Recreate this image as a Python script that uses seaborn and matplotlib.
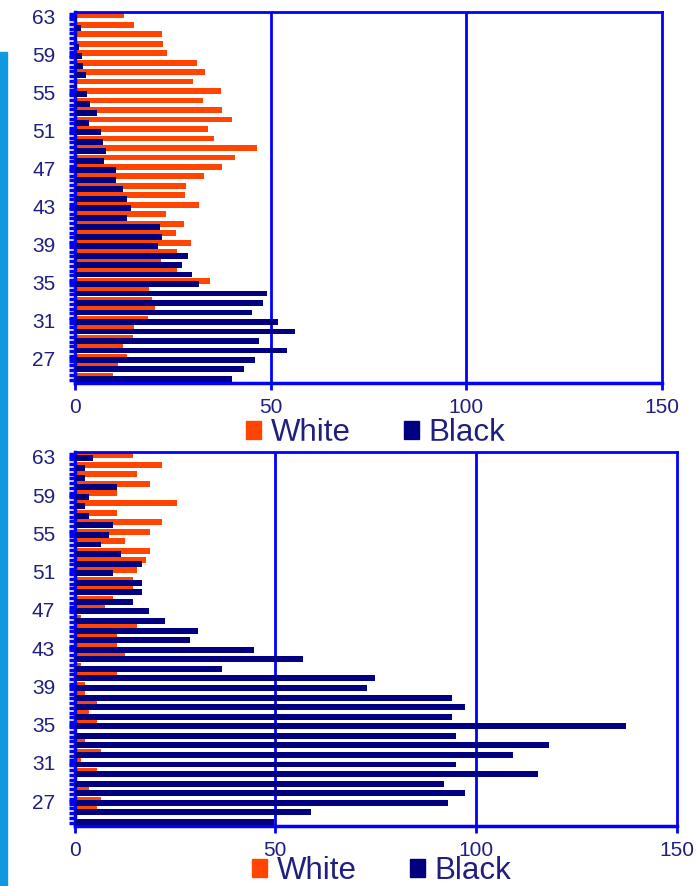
import numpy as np
import pandas as pd
import matplotlib
matplotlib.use("Agg")
import matplotlib.pyplot as plt
import seaborn as sns
from matplotlib.patches import Patch, Rectangle

# ages from 63 down to 25
ages = list(range(63, 24, -1))

# upper panel
top_white = [12.6, 15.1, 22.3, 22.6, 23.6, 31.3, 33.2, 30.2, 37.2, 32.7,
             37.6, 40.0, 33.9, 35.5, 46.6, 41.0, 37.6, 33.0, 28.4, 28.1,
             31.7, 23.3, 27.9, 25.9, 29.7, 26.1, 22.1, 26.1, 34.6, 18.9,
             19.6, 20.4, 18.7, 15.2, 14.7, 12.3, 13.2, 11.1, 9.8]
top_black = [0.5, 1.5, 0.5, 1.0, 1.8, 2.1, 2.7, 0.5, 3.0, 3.8,
             5.7, 3.7, 6.6, 7.2, 7.8, 7.5, 10.6, 10.6, 12.3, 13.3,
             14.3, 13.4, 21.6, 22.3, 21.1, 28.9, 27.4, 30.0, 31.8, 49.1,
             48.1, 45.2, 52.0, 56.1, 47.1, 54.1, 46.1, 43.1, 40.0]

# lower panel
bot_white = [14.5, 21.7, 15.6, 18.7, 10.5, 25.6, 10.5, 21.7, 18.7, 12.6,
             18.7, 17.7, 15.6, 14.6, 14.6, 9.6, 7.7, 1.5, 15.6, 10.5,
             10.5, 12.6, 1.5, 10.5, 2.5, 2.5, 5.5, 3.5, 5.5, 0.6,
             2.5, 6.5, 1.5, 5.5, 0.5, 3.5, 6.5, 5.5, 0.0]
bot_black = [4.7, 2.5, 2.5, 10.5, 3.5, 2.5, 3.5, 9.7, 8.7, 6.5,
             11.6, 16.7, 9.7, 16.7, 16.7, 14.6, 18.6, 22.6, 30.8, 28.8,
             44.8, 57.0, 36.7, 74.9, 72.9, 94.1, 97.1, 94.1, 137.3, 95.0,
             118.2, 109.2, 95.0, 115.3, 92.0, 97.1, 93.1, 58.9, 49.6]

age_labels = [27, 31, 35, 39, 43, 47, 51, 55, 59, 63]
x_ticks = [0, 50, 100, 150]

ORANGE = "#FF4500"
NAVY = "#000080"
BLUE = "#0000FF"
TXT = "#1F1F80"

sns.set_theme(style="white")
plt.rcParams["font.family"] = ["Liberation Sans", "DejaVu Sans"]

fig = plt.figure(figsize=(6.97, 8.86), dpi=100)
fig.patches.append(Rectangle((0, 0), 7 / 697, 1 - 52 / 886,
                             transform=fig.transFigure, color="#1199DD", zorder=0))


def draw_panel(ax, white, black):
    df_w = pd.DataFrame({"pos": np.array(ages) + 0.17, "val": white})
    df_b = pd.DataFrame({"pos": np.array(ages) - 0.17, "val": black})
    # vertical grid first so bars sit over it
    for gx in [50, 100]:
        ax.axvline(gx, color=BLUE, lw=2, zorder=0)
    sns.barplot(data=df_w, x="val", y="pos", orient="y", native_scale=True,
                color=ORANGE, saturation=1, width=0.62, errorbar=None,
                linewidth=0, ax=ax, zorder=2)
    sns.barplot(data=df_b, x="val", y="pos", orient="y", native_scale=True,
                color=NAVY, saturation=1, width=0.62, errorbar=None,
                linewidth=0, ax=ax, zorder=3)
    ax.set_xlim(0, 150)
    ax.set_ylim(24.4, 63.5)
    ax.set_xlabel("")
    ax.set_ylabel("")
    ax.set_xticks(x_ticks)
    ax.set_yticks(age_labels)
    ax.set_yticks(np.arange(24.75, 63.5, 0.5), minor=True)
    ax.tick_params(axis="x", length=5, width=2, color=BLUE, labelcolor=TXT,
                   labelsize=15, pad=6, bottom=True)
    ax.tick_params(axis="y", which="both", length=4, width=2.5, color=BLUE,
                   labelcolor=TXT, labelsize=15, left=True, pad=10)
    for side, sp in ax.spines.items():
        sp.set_visible(True)
        sp.set_color(BLUE)
        sp.set_linewidth(2.5 if side in ("left", "bottom") else 2)


ax1 = fig.add_axes([75 / 697, 1 - 383 / 886, 587 / 697, 371 / 886])
draw_panel(ax1, top_white, top_black)

ax2 = fig.add_axes([74.5 / 697, 1 - 826 / 886, 602.5 / 697, 374 / 886])
draw_panel(ax2, bot_white, bot_black)

handles = [Patch(color=ORANGE, label="White"), Patch(color=NAVY, label="Black")]
for cx, cy in [(375.5 / 697, 1 - 433 / 886), (381.5 / 697, 1 - 871 / 886)]:
    leg = fig.legend(handles=handles, ncol=2, loc="center", bbox_to_anchor=(cx, cy),
                     frameon=False, fontsize=22.5, handlelength=0.5, handleheight=0.5,
                     handletextpad=0.3, columnspacing=1.7, borderpad=0)
    for t in leg.get_texts():
        t.set_color(TXT)

# the upper legend is cut off just above the lower chart
fig.patches.append(Rectangle((0.2, 1 - 449 / 886), 0.6, 8.5 / 886,
                             transform=fig.transFigure, color="white", zorder=10))

fig.savefig("out.png", dpi=100)
